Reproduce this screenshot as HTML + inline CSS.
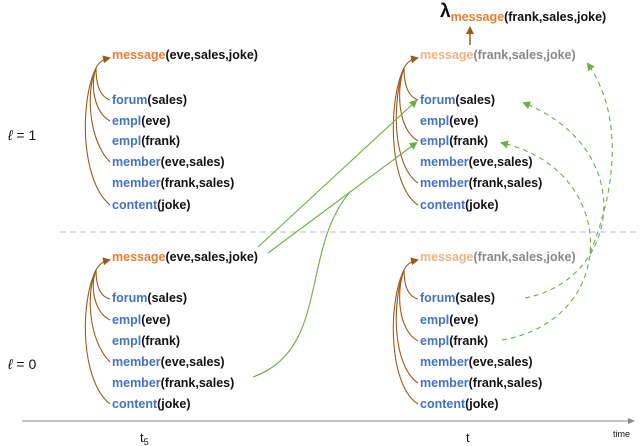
<!DOCTYPE html>
<html><head><meta charset="utf-8"><style>
body{margin:0;background:#fff}
svg{display:block}
text{font-family:"Liberation Sans",sans-serif;font-weight:bold;font-size:12.5px;fill:#111}
.b{fill:#4472c4}.o{fill:#ed7d31}.lo{fill:#f4b183}.g{fill:#888}
.n{font-weight:normal}
</style></head><body>
<svg width="640" height="446" viewBox="0 0 640 446" xmlns="http://www.w3.org/2000/svg">
<defs>
<marker id="br" markerWidth="8" markerHeight="8" refX="6" refY="4" orient="auto" markerUnits="userSpaceOnUse"><path d="M0,0 L8,4 L0,8z" fill="#9c5a1a"/></marker>
<marker id="gr" markerWidth="8" markerHeight="8" refX="6" refY="4" orient="auto" markerUnits="userSpaceOnUse"><path d="M0,0 L8,4 L0,8z" fill="#70ad47"/></marker>
<marker id="ax" markerWidth="8" markerHeight="8" refX="6" refY="4" orient="auto" markerUnits="userSpaceOnUse"><path d="M0,1 L7,4 L0,7z" fill="#888"/></marker>
</defs>
<line x1="60" y1="232" x2="640" y2="232" stroke="#ccc" stroke-dasharray="6,4" stroke-width="1.2"/>
<line x1="22" y1="421" x2="634" y2="421" stroke="#888" stroke-width="1" marker-end="url(#ax)"/>
<text x="140" y="442" class="n" style="font-size:13px">t<tspan style="font-size:9px" dy="3">5</tspan></text>
<text x="466" y="442" class="n" style="font-size:13px">t</text>
<text x="613" y="437" class="n" style="font-size:9px">time</text>
<text x="8" y="140" class="n" style="font-size:14px;font-style:italic">ℓ<tspan style="font-style:normal"> = 1</tspan></text>
<text x="8" y="369" class="n" style="font-size:14px;font-style:italic">ℓ<tspan style="font-style:normal"> = 0</tspan></text>

<text x="440" y="17" style="font-size:19px">λ<tspan class="o" style="font-size:12.5px" dy="4">message</tspan><tspan style="font-size:12.5px">(frank,sales,joke)</tspan></text>
<line x1="470" y1="45" x2="470" y2="28" stroke="#9c5a1a" stroke-width="1.5" marker-end="url(#br)"/>

<g>
<text x="112" y="59"><tspan class="o">message</tspan>(eve,sales,joke)</text>
<text x="112" y="104"><tspan class="b">forum</tspan>(sales)</text>
<text x="112" y="125"><tspan class="b">empl</tspan>(eve)</text>
<text x="112" y="145"><tspan class="b">empl</tspan>(frank)</text>
<text x="112" y="166"><tspan class="b">member</tspan>(eve,sales)</text>
<text x="112" y="187"><tspan class="b">member</tspan>(frank,sales)</text>
<text x="112" y="209"><tspan class="b">content</tspan>(joke)</text>
</g>
<g transform="translate(0,202)">
<text x="112" y="59"><tspan class="o">message</tspan>(eve,sales,joke)</text>
<text x="112" y="100"><tspan class="b">forum</tspan>(sales)</text>
<text x="112" y="122"><tspan class="b">empl</tspan>(eve)</text>
<text x="112" y="143"><tspan class="b">empl</tspan>(frank)</text>
<text x="112" y="164"><tspan class="b">member</tspan>(eve,sales)</text>
<text x="112" y="185"><tspan class="b">member</tspan>(frank,sales)</text>
<text x="112" y="206"><tspan class="b">content</tspan>(joke)</text>
</g>
<g>
<text x="420" y="59"><tspan class="lo">message</tspan><tspan class="g">(frank,sales,joke)</tspan></text>
<text x="420" y="104"><tspan class="b">forum</tspan>(sales)</text>
<text x="420" y="125"><tspan class="b">empl</tspan>(eve)</text>
<text x="420" y="145"><tspan class="b">empl</tspan>(frank)</text>
<text x="420" y="166"><tspan class="b">member</tspan>(eve,sales)</text>
<text x="420" y="187"><tspan class="b">member</tspan>(frank,sales)</text>
<text x="420" y="209"><tspan class="b">content</tspan>(joke)</text>
</g>
<g transform="translate(0,202)">
<text x="420" y="59"><tspan class="lo">message</tspan><tspan class="g">(frank,sales,joke)</tspan></text>
<text x="420" y="100"><tspan class="b">forum</tspan>(sales)</text>
<text x="420" y="122"><tspan class="b">empl</tspan>(eve)</text>
<text x="420" y="143"><tspan class="b">empl</tspan>(frank)</text>
<text x="420" y="164"><tspan class="b">member</tspan>(eve,sales)</text>
<text x="420" y="185"><tspan class="b">member</tspan>(frank,sales)</text>
<text x="420" y="206"><tspan class="b">content</tspan>(joke)</text>
</g>

<g fill="none" stroke="#9c5a1a" stroke-width="1.1">
<path d="M96,68 Q100,60 109,58" marker-end="url(#br)"/>
<path d="M110,100 C98,96 96,80 96,68"/>
<path d="M110,121 C94,112 90,85 96,68"/>
<path d="M110,162 C88,140 86,90 96,68"/>
<path d="M110,205 C80,180 80,100 96,68"/>
<g transform="translate(0,202)">
<path d="M96,68 Q100,60 109,58" marker-end="url(#br)"/>
<path d="M110,97 C98,94 96,80 96,68"/>
<path d="M110,118 C94,110 90,85 96,68"/>
<path d="M110,160 C88,138 86,90 96,68"/>
<path d="M110,202 C80,178 80,100 96,68"/>
</g>
<path d="M404,68 Q408,60 417,58" marker-end="url(#br)"/>
<path d="M418,100 C406,96 404,80 404,68"/>
<path d="M418,141 C398,130 396,90 404,68"/>
<path d="M418,183 C392,165 392,100 404,68"/>
<path d="M418,205 C388,185 388,100 404,68"/>
<g transform="translate(0,202)">
<path d="M404,68 Q408,60 417,58" marker-end="url(#br)"/>
<path d="M418,97 C406,94 404,80 404,68"/>
<path d="M418,139 C398,128 396,90 404,68"/>
<path d="M418,181 C392,163 392,100 404,68"/>
<path d="M418,202 C388,183 388,100 404,68"/>
</g>
</g>

<g fill="none" stroke="#70ad47" stroke-width="1.1">
<path d="M258,247 L416,101" marker-end="url(#gr)"/>
<path d="M268,253 L416,143" marker-end="url(#gr)"/>
<path d="M253,377 C330,350 300,250 350,192"/>
</g>
<g fill="none" stroke="#70ad47" stroke-width="1.1" stroke-dasharray="5,4">
<path d="M590,253 C620,180 620,110 588,64" marker-end="url(#gr)"/>
<path d="M525,298 C620,280 640,150 524,103" marker-end="url(#gr)"/>
<path d="M502,340 C620,320 620,170 502,143" marker-end="url(#gr)"/>
</g>
</svg>
</body></html>
